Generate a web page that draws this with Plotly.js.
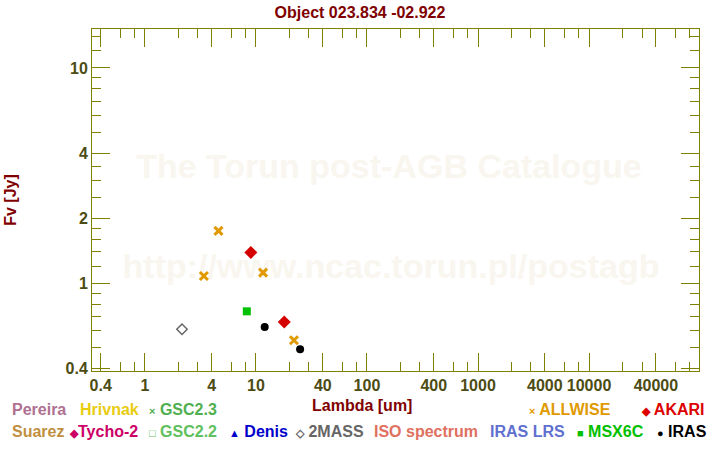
<!DOCTYPE html>
<html>
<head>
<meta charset="utf-8">
<script src="https://cdn.plot.ly/plotly-3.0.1.min.js"></script>
<style>html,body{margin:0;padding:0;background:#fff;}#chart{width:720px;height:450px;}</style>
</head>
<body>
<div id="chart"></div>
<script>
// ---- Data (wavelength in um, flux in Jy) ----
const allwiseLambda = [3.4, 4.6, 11.6, 22.0];
const allwiseFlux   = [1.08, 1.75, 1.12, 0.543];
const akariLambda   = [9.0, 18.0];
const akariFlux     = [1.39, 0.66];
const msxLambda     = [8.28];
const msxFlux       = [0.74];
const irasLambda    = [12, 25];
const irasFlux      = [0.626, 0.493];
const twomassLambda = [2.16];
const twomassFlux   = [0.611];

// ---- Axis ticks ----
const xTickVals = [0.4, 1, 4, 10, 40, 100, 400, 1000, 4000, 10000, 40000];
const xTickText = ["0.4", "1", "4", "10", "40", "100", "400", "1000", "4000", "10000", "40000"];
const xMinorVals = [0.6, 0.8, 2, 3, 6, 8, 20, 30, 60, 80, 200, 300, 600, 800, 2000, 3000, 6000, 8000, 20000, 30000, 60000, 80000];
const yTickVals = [0.4, 1, 2, 4, 10];
const yTickText = ["0.4", "1", "2", "4", "10"];
const yMinorVals = [0.5, 0.6, 0.7, 0.8, 0.9, 1.2, 1.4, 1.6, 1.8, 2.5, 3, 3.5, 5, 6, 7, 8, 9, 12, 14];

// ---- Legend entries (text, colour, row, left pixel) ----
const legendText  = ["Pereira", "Hrivnak", "<span style='font-size:11px'>×</span> GSC2.3", "<span style='font-size:11px'>×</span> ALLWISE", "<span style='font-size:11px'>◆</span> AKARI",
                     "Suarez", "<span style='font-size:11px'>◆</span>Tycho-2", "<span style='font-size:11px'>□</span> GSC2.2", "<span style='font-size:11px'>▲</span> Denis", "<span style='font-size:11px'>◇</span> 2MASS",
                     "ISO spectrum", "IRAS LRS", "<span style='font-size:11px'>■</span> MSX6C", "<span style='font-size:11px'>●</span> IRAS"];
const legendColor = ["#b07090", "#e8cc10", "#50b050", "#e09a00", "#dd0000",
                     "#c09040", "#cc0066", "#60c060", "#0000cc", "#666666",
                     "#e07060", "#6070d0", "#00c000", "#000000"];
const legendRow   = [0, 0, 0, 0, 0, 1, 1, 1, 1, 1, 1, 1, 1, 1];
const legendLeft  = [10, 78, 147, 527, 639, 10, 67, 147, 227, 293, 372, 488, 575, 655];

const FONT = "Liberation Sans, Arial, sans-serif";
const L = 92, R = 21, T = 29, B = 79, W = 720, H = 450;
const pw = W - L - R, ph = H - T - B;

const traces = [
  {x: twomassLambda, y: twomassFlux, mode: "markers", type: "scatter",
   marker: {symbol: "diamond-open", size: 8, color: "#666666", line: {width: 1.5, color: "#666666"}}},
  {x: msxLambda, y: msxFlux, mode: "markers", type: "scatter",
   marker: {symbol: "square", size: 8, color: "#00c000"}},
  {x: irasLambda, y: irasFlux, mode: "markers", type: "scatter",
   marker: {symbol: "circle", size: 8, color: "#000000"}},
  {x: akariLambda, y: akariFlux, mode: "markers", type: "scatter",
   marker: {symbol: "diamond", size: 10, color: "#d40000"}},
  {x: allwiseLambda, y: allwiseFlux, mode: "markers", type: "scatter",
   marker: {symbol: "x-thin-open", size: 8, color: "#e09a00", line: {width: 3, color: "#e09a00"}}}
];

function wmShape(text, cx, cy) {
  const x = (cx - L) / pw, y = (T + ph - cy) / ph;
  return {type: "rect", xref: "paper", yref: "paper", layer: "below",
    x0: x - 0.45, x1: x + 0.45, y0: y - 0.06, y1: y + 0.06,
    line: {width: 0}, fillcolor: "rgba(0,0,0,0)",
    label: {text: "<b>" + text + "</b>", textposition: "middle center",
            font: {family: FONT, size: 34, color: "#f9f6ef"}}};
}
const shapes = [
  wmShape("The Torun post-AGB Catalogue", 389, 163),
  wmShape("http://www.ncac.torun.pl/postagb", 391, 263)
];

const annotations = [
  {text: "Lambda [um]", x: (362 - L) / pw, y: (T + ph - 405) / ph, xref: "paper", yref: "paper",
   showarrow: false, xanchor: "center", yanchor: "middle", font: {family: FONT, size: 16, color: "#800000", weight: "bold"}}
];
for (let i = 0; i < legendText.length; i++) {
  const py = legendRow[i] === 0 ? 410 : 431;
  annotations.push({text: legendText[i], x: (legendLeft[i] - L) / pw, y: (T + ph - py) / ph,
    xref: "paper", yref: "paper", showarrow: false, xanchor: "left", yanchor: "middle",
    font: {family: FONT, size: 16, color: legendColor[i], weight: "bold"}});
}

const axisCommon = {
  type: "log", showline: true, linecolor: "#808000", linewidth: 1, mirror: "ticks",
  ticks: "inside", ticklen: 18, tickwidth: 1, tickcolor: "#808000",
  showgrid: false, zeroline: false, tickmode: "array",
  tickfont: {family: FONT, size: 16, color: "#4c4c14", weight: "bold"}
};

const layout = {
  width: W, height: H, margin: {l: L, r: R, t: T, b: B, pad: 0},
  paper_bgcolor: "#ffffff", plot_bgcolor: "#ffffff", showlegend: false,
  title: {text: "Object 023.834 -02.922", x: 0.5, xref: "container", xanchor: "center",
          y: 1 - 12 / H, yref: "container", yanchor: "middle",
          font: {family: FONT, size: 16, color: "#800000", weight: "bold"}},
  xaxis: Object.assign({}, axisCommon, {
    range: [-0.476, 4.99], tickvals: xTickVals, ticktext: xTickText,
    minor: {tickmode: "array", tickvals: xMinorVals, ticks: "inside", ticklen: 9, tickwidth: 1, tickcolor: "#808000", showgrid: false}
  }),
  yaxis: Object.assign({}, axisCommon, {
    range: [-0.408, 1.181], tickvals: yTickVals, ticktext: yTickText,
    minor: {tickmode: "array", tickvals: yMinorVals, ticks: "inside", ticklen: 9, tickwidth: 1, tickcolor: "#808000", showgrid: false},
    title: {text: "Fv [Jy]", standoff: 44, font: {family: FONT, size: 16, color: "#800000", weight: "bold"}},
    automargin: false
  }),
  shapes: shapes,
  annotations: annotations
};

Plotly.newPlot("chart", traces, layout, {staticPlot: true, displayModeBar: false});
</script>
</body>
</html>
